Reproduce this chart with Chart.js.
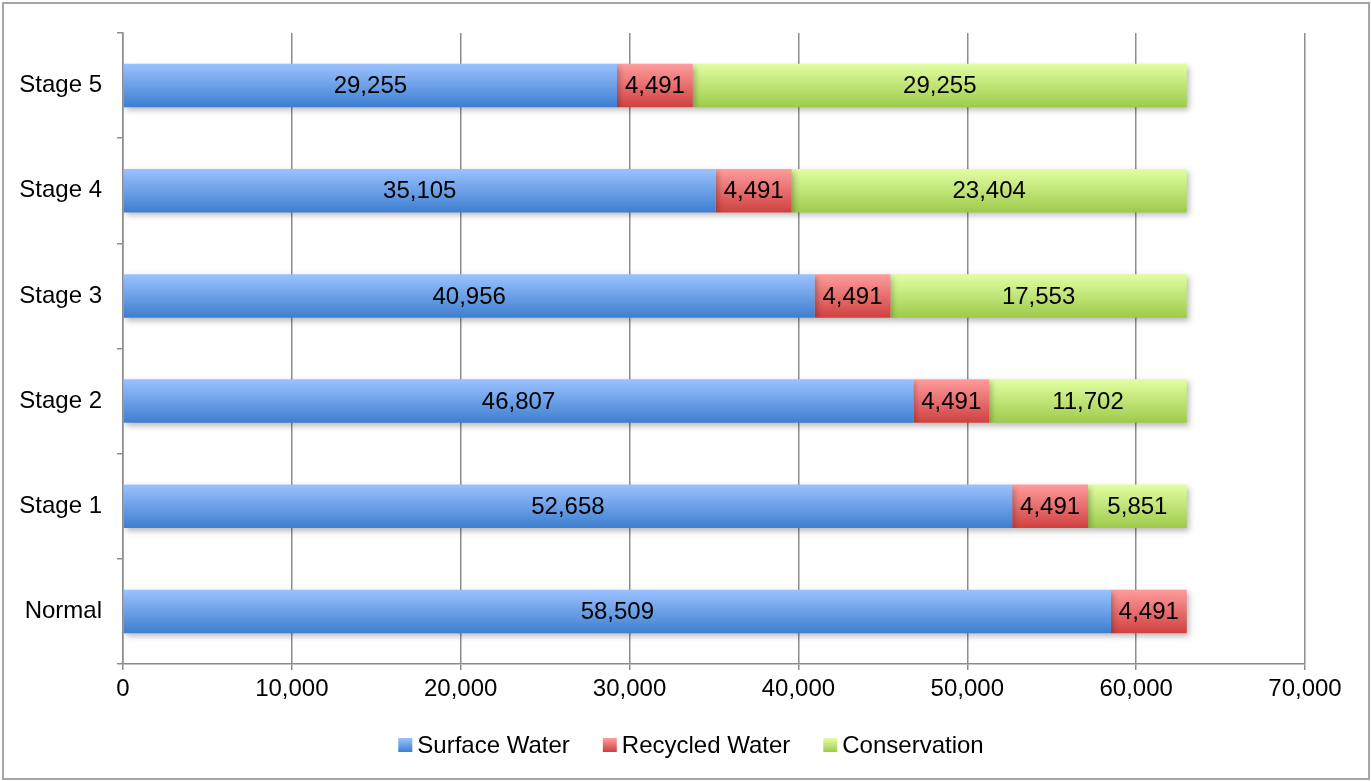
<!DOCTYPE html>
<html>
<head>
<meta charset="utf-8">
<script src="https://cdn.jsdelivr.net/npm/chart.js@4.4.1/dist/chart.umd.min.js"></script>
<style>
  html, body { margin: 0; padding: 0; background: #fff; }
  #wrap { position: relative; width: 1371px; height: 781px; }
  #frame { position: absolute; left: 2px; top: 2px; width: 1364px; height: 774px; border: 2px solid #a6a6a6; pointer-events: none; }
  canvas { position: absolute; left: 0; top: 0; }
</style>
</head>
<body>
<div id="wrap">
  <canvas id="chart" width="1371" height="781"></canvas>
  <div id="frame"></div>
</div>
<script>
const categories = ['Stage 5', 'Stage 4', 'Stage 3', 'Stage 2', 'Stage 1', 'Normal'];
const surfaceWater = [29255, 35105, 40956, 46807, 52658, 58509];
const recycledWater = [4491, 4491, 4491, 4491, 4491, 4491];
const conservation = [29255, 23404, 17553, 11702, 5851, 0];
const xTicks = [0, 10000, 20000, 30000, 40000, 50000, 60000, 70000];

const FONT = "'Liberation Sans', Arial, sans-serif";
const colours = [
  ['#9cc2ff', '#3d7ecf'],
  ['#ff9d9d', '#cf4040'],
  ['#e2ffa3', '#9dca4a']
];

// vertical gradient for each bar, from the bar's own position on the y scale
function barFill(top, bottom) {
  return (ctx) => {
    const chart = ctx.chart;
    const y = chart.scales && chart.scales.y;
    if (!chart.chartArea || !y) return bottom;
    const yc = y.getPixelForValue(ctx.dataIndex);
    const g = chart.ctx.createLinearGradient(0, yc - 22, 0, yc + 22);
    g.addColorStop(0, top);
    g.addColorStop(1, bottom);
    return g;
  };
}

const shadowPlugin = {
  id: 'barShadow',
  beforeDatasetsDraw(chart) {
    const c = chart.ctx;
    c.save();
    c.shadowColor = 'rgba(0,0,0,0.28)';
    c.shadowBlur = 6;
    c.shadowOffsetX = 2;
    c.shadowOffsetY = 3;
  },
  afterDatasetsDraw(chart) {
    chart.ctx.restore();
  }
};

const labelPlugin = {
  id: 'segLabels',
  afterDatasetsDraw(chart) {
    const c = chart.ctx;
    c.save();
    c.font = '24px ' + FONT;
    c.fillStyle = '#000';
    c.textAlign = 'center';
    c.textBaseline = 'middle';
    chart.data.datasets.forEach((ds, i) => {
      const meta = chart.getDatasetMeta(i);
      meta.data.forEach((bar, j) => {
        const v = ds.data[j];
        if (!v) return;
        const p = bar.getProps(['x', 'y', 'base'], true);
        c.fillText(v.toLocaleString('en-US'), (p.x + p.base) / 2, p.y + 1);
      });
    });
    c.restore();
  }
};

// legend drawn by hand: small gradient square tight against the text
const legendPlugin = {
  id: 'bottomLegend',
  afterDraw(chart) {
    const c = chart.ctx;
    const box = 14, gap = 5, spacing = 33, cy = 745;
    c.save();
    c.font = '24px ' + FONT;
    c.textBaseline = 'middle';
    c.textAlign = 'left';
    const items = chart.data.datasets.map((ds, i) => ({ text: ds.label, w: c.measureText(ds.label).width, col: colours[i] }));
    const total = items.reduce((s, it) => s + box + gap + it.w, 0) + spacing * (items.length - 1);
    let x = 691 - total / 2;
    items.forEach((it) => {
      const g = c.createLinearGradient(0, cy - box / 2, 0, cy + box / 2);
      g.addColorStop(0, it.col[0]);
      g.addColorStop(1, it.col[1]);
      c.fillStyle = g;
      c.fillRect(x, cy - box / 2, box, box);
      c.fillStyle = '#000';
      c.fillText(it.text, x + box + gap, cy + 1);
      x += box + gap + it.w + spacing;
    });
    c.restore();
  }
};

new Chart(document.getElementById('chart'), {
  type: 'bar',
  data: {
    labels: categories,
    datasets: [
      { label: 'Surface Water', data: surfaceWater, backgroundColor: barFill(colours[0][0], colours[0][1]) },
      { label: 'Recycled Water', data: recycledWater, backgroundColor: barFill(colours[1][0], colours[1][1]) },
      { label: 'Conservation', data: conservation, backgroundColor: barFill(colours[2][0], colours[2][1]) }
    ]
  },
  options: {
    indexAxis: 'y',
    responsive: false,
    animation: false,
    devicePixelRatio: 1,
    layout: { padding: { left: 0, top: 33, right: 66, bottom: 65 } },
    datasets: { bar: { categoryPercentage: 1, barPercentage: 0.413, borderWidth: 0 } },
    scales: {
      x: {
        stacked: true,
        min: 0,
        max: 70000,
        afterBuildTicks: (s) => { s.ticks = xTicks.map(v => ({ value: v })); },
        grid: { color: '#8c8c8c', lineWidth: 1.5, tickLength: 6 },
        border: { color: '#8c8c8c', width: 1.5 },
        ticks: { color: '#000', font: { family: FONT, size: 24 }, padding: 5 },
        afterFit: (s) => { s.height = 52; }
      },
      y: {
        stacked: true,
        grid: { drawOnChartArea: false, color: '#8c8c8c', lineWidth: 1.5, tickLength: 6 },
        border: { color: '#8c8c8c', width: 1.5 },
        ticks: { color: '#000', font: { family: FONT, size: 24 }, crossAlign: 'near', padding: 15 },
        afterFit: (s) => { s.width = 123; }
      }
    },
    plugins: {
      legend: { display: false },
      tooltip: { enabled: false }
    }
  },
  plugins: [shadowPlugin, labelPlugin, legendPlugin]
});
</script>
</body>
</html>
